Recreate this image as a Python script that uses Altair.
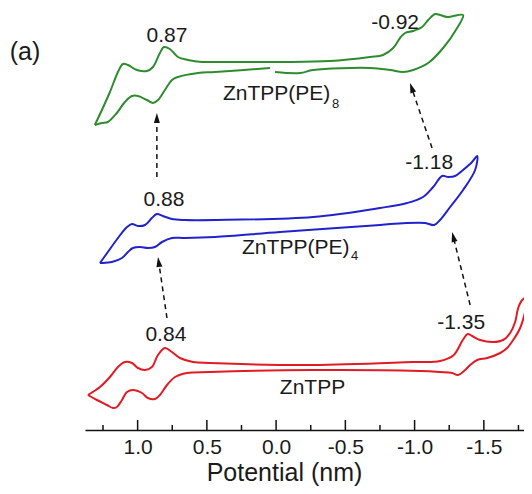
import math
import altair as alt
import pandas as pd

# ---- data: potential (V) and current (arbitrary units, stacked) ----
green_V = [1.309, 1.258, 1.200, 1.142, 1.106, 1.070, 1.005, 0.933, 0.889, 0.839, 0.810, 0.767, 0.709, 0.637,
           0.535, 0.441, -0.028, -0.389, -0.678, -0.772, -0.845, -0.895, -0.931, -0.989, -1.054, -1.098,
           -1.148, -1.184, -1.235, -1.350, -1.307, -1.206, -1.098, -0.989, -0.917, -0.823, -0.678, -0.267,
           -0.173, 0.008, 0.044, 0.441, 0.564, 0.709, 0.752, 0.803, 0.853, 0.889, 0.933, 0.998, 1.041,
           1.092, 1.150, 1.215, 1.258, 1.309]
green_I = [30.5, 32.0, 33.8, 35.8, 36.6, 36.5, 36.0, 35.9, 36.3, 37.7, 38.3, 38.1, 37.3, 37.0,
           36.8, 36.8, 36.8, 36.9, 37.3, 37.5, 38.2, 39.2, 39.7, 39.9, 40.3, 41.0,
           41.6, 41.5, 41.3, 41.5, 40.2, 38.2, 36.7, 36.0, 35.8, 36.0, 36.2, 36.0,
           35.7, 35.8, 36.2, 35.8, 35.7, 35.3, 35.0, 34.0, 33.0, 32.7, 33.0, 33.4, 33.4,
           32.8, 31.7, 30.8, 30.7, 30.5]
green_break = 40  # the green trace has a small gap in its return sweep before this point

blue_V = [1.272, 1.215, 1.142, 1.077, 1.041, 0.998, 0.947, 0.897, 0.861, 0.817, 0.752, 0.658, 0.441,
          -0.267, -0.751, -0.946, -1.061, -1.134, -1.199, -1.242, -1.293, -1.350, -1.415, -1.452,
          -1.437, -1.350, -1.257, -1.184, -1.141, -1.076, -0.823, -0.751, -0.028, 0.441, 0.658,
          0.752, 0.824, 0.875, 0.926, 0.983, 1.034, 1.070, 1.113, 1.186, 1.258, 1.272]
blue_I = [16.7, 17.8, 19.2, 20.3, 20.6, 20.4, 20.5, 21.2, 21.6, 21.4, 21.1, 21.0, 21.0,
          21.3, 22.2, 22.7, 23.3, 24.3, 25.4, 25.3, 25.4, 26.0, 26.8, 27.4,
          26.0, 24.0, 22.3, 21.0, 20.5, 20.7, 20.6, 20.5, 19.8, 19.3, 19.2,
          19.2, 18.8, 18.3, 18.2, 18.3, 18.2, 17.8, 17.2, 16.8, 16.7, 16.7]

red_V = [1.359, 1.272, 1.200, 1.142, 1.092, 1.041, 0.998, 0.947, 0.897, 0.853, 0.803, 0.752, 0.694,
         0.600, 0.478, -0.267, -0.989, -1.184, -1.283, -1.348, -1.384, -1.415, -1.473, -1.567,
         -1.639, -1.690, -1.726, -1.748, -1.777, -1.813, -1.813, -1.798, -1.762, -1.712, -1.668,
         -1.618, -1.524, -1.452, -1.401, -1.365, -1.314, -1.271, -1.184, -1.040, -0.267, 0.478,
         0.644, 0.730, 0.788, 0.839, 0.875, 0.926, 0.969, 1.034, 1.077, 1.113, 1.150, 1.178,
         1.222, 1.294, 1.359]
red_I = [3.5, 4.3, 5.3, 6.3, 6.8, 6.7, 6.2, 6.0, 6.3, 7.5, 8.2, 7.8, 7.2,
         6.8, 6.7, 6.5, 6.8, 6.9, 7.5, 9.0, 9.6, 9.4, 9.0, 8.8,
         9.0, 9.7, 10.8, 12.2, 13.0, 13.3, 13.0, 11.8, 10.2, 9.0, 8.2,
         7.7, 7.2, 7.0, 6.5, 6.0, 5.5, 5.7, 5.8, 5.9, 6.0, 5.8,
         5.7, 5.3, 4.5, 3.5, 3.1, 3.2, 3.7, 4.0, 3.8, 3.0, 2.3, 2.2,
         2.5, 3.0, 3.5]

# peak potential labels
peak_text = ["0.87", "-0.92", "0.88", "-1.18", "0.84", "-1.35"]
peak_V = [0.788, -0.859, 0.810, -1.105, 0.796, -1.336]
peak_I = [39.4, 40.7, 23.0, 26.7, 9.5, 10.7]

# compound names (main part + subscript)
name_text = ["ZnTPP(PE)", "ZnTPP(PE)"]
name_V = [0.384, 0.246]
name_I = [33.6, 18.2]
sub_text = ["8", "4"]
sub_V = [-0.404, -0.541]
sub_I = [32.6, 17.4]
plain_name = ["ZnTPP"]
plain_V = [-0.263]
plain_I = [4.2]

# dashed arrows (start -> end)
arrow_V0 = [0.788, 0.861, -1.126, -1.401]
arrow_I0 = [11.2, 25.3, 28.2, 12.5]
arrow_V1 = [0.853, 0.861, -0.967, -1.271]
arrow_I1 = [17.3, 31.7, 34.7, 19.8]

major_ticks = [1.0, 0.5, 0.0, -0.5, -1.0, -1.5]
minor_ticks = [1.25, 0.75, 0.25, -0.25, -0.75, -1.25, -1.75]

# ---- geometry ----
W, H = 439, 420
x_dom = [1.38, -1.79]
y_dom = [0, 42]
px_per_V = W / (x_dom[0] - x_dom[1])
px_per_I = H / (y_dom[1] - y_dom[0])

rows = []
for name, Vs, Is in [("green", green_V, green_I), ("blue", blue_V, blue_I), ("red", red_V, red_I)]:
    for k, (v, i) in enumerate(zip(Vs, Is)):
        seg = name + ("b" if (name == "green" and k >= green_break) else "a")
        rows.append({"series": name, "seg": seg, "idx": k, "V": v, "I": i})
curves = pd.DataFrame(rows)

# arrow geometry (head size in pixels)
head_size = 100
r = math.sqrt(head_size) / 2
arr_rows, head_rows = [], []
for v0, i0, v1, i1 in zip(arrow_V0, arrow_I0, arrow_V1, arrow_I1):
    dx = -(v1 - v0) * px_per_V
    dy = -(i1 - i0) * px_per_I
    L = math.hypot(dx, dy)
    ux, uy = dx / L, dy / L
    ang = math.degrees(math.atan2(ux, -uy)) % 360
    hv = v1 + r * ux / px_per_V
    hi = i1 + r * uy / px_per_I
    lv = v1 + 1.6 * r * ux / px_per_V
    li = i1 + 1.6 * r * uy / px_per_I
    arr_rows.append({"V": v0, "I": i0, "V2": lv, "I2": li})
    head_rows.append({"V": hv, "I": hi, "ang": ang})
arrows = pd.DataFrame(arr_rows)
heads = pd.DataFrame(head_rows)

xs = alt.Scale(domain=x_dom, nice=False, zero=False)
ys = alt.Scale(domain=y_dom, nice=False, zero=False)
FONT = "Liberation Sans"
TXT = "#1a1a1a"

x_axis = alt.Axis(
    values=major_ticks,
    labelExpr="datum.value < 0 ? '-' + format(-datum.value, '.1f') : format(datum.value, '.1f')",
    ticks=False, grid=False, domainColor="#111", domainWidth=1.5,
    labelFont=FONT, labelFontSize=21, labelColor=TXT, labelPadding=6,
    title="Potential (nm)", titleFont=FONT, titleFontSize=25, titleFontWeight="normal",
    titleColor=TXT, titleBaseline="alphabetic", titleY=50, titleX=199,
)

lines = alt.Chart(curves).mark_line(strokeWidth=2, clip=False, interpolate="catmull-rom").encode(
    x=alt.X("V:Q", scale=xs, axis=x_axis),
    y=alt.Y("I:Q", scale=ys, axis=None),
    color=alt.Color("series:N",
                    scale=alt.Scale(domain=["green", "blue", "red"],
                                    range=["#2e8b2e", "#2222cc", "#e01b24"]),
                    legend=None),
    detail="seg:N",
    order=alt.Order("idx:Q"),
)

major = alt.Chart(pd.DataFrame({"V": major_ticks})).mark_rule(color="#111", strokeWidth=1.5).encode(
    x=alt.X("V:Q", scale=xs), y=alt.value(H), y2=alt.value(H - 10))
minor = alt.Chart(pd.DataFrame({"V": minor_ticks})).mark_rule(color="#111", strokeWidth=1.5).encode(
    x=alt.X("V:Q", scale=xs), y=alt.value(H), y2=alt.value(H - 5))

peaks = alt.Chart(pd.DataFrame({"V": peak_V, "I": peak_I, "t": peak_text})).mark_text(
    font=FONT, fontSize=21, color=TXT, baseline="middle", align="center").encode(
    x=alt.X("V:Q", scale=xs), y=alt.Y("I:Q", scale=ys), text="t:N")

names = alt.Chart(pd.DataFrame({"V": name_V, "I": name_I, "t": name_text})).mark_text(
    font=FONT, fontSize=21, color=TXT, baseline="middle", align="left").encode(
    x=alt.X("V:Q", scale=xs), y=alt.Y("I:Q", scale=ys), text="t:N")

subs = alt.Chart(pd.DataFrame({"V": sub_V, "I": sub_I, "t": sub_text})).mark_text(
    font=FONT, fontSize=13, color=TXT, baseline="middle", align="left").encode(
    x=alt.X("V:Q", scale=xs), y=alt.Y("I:Q", scale=ys), text="t:N")

plain = alt.Chart(pd.DataFrame({"V": plain_V, "I": plain_I, "t": plain_name})).mark_text(
    font=FONT, fontSize=21, color=TXT, baseline="middle", align="center").encode(
    x=alt.X("V:Q", scale=xs), y=alt.Y("I:Q", scale=ys), text="t:N")

arrow_lines = alt.Chart(arrows).mark_rule(color="#111", strokeWidth=1.5, strokeDash=[5, 4]).encode(
    x=alt.X("V:Q", scale=xs), y=alt.Y("I:Q", scale=ys), x2="V2:Q", y2="I2:Q")

arrow_heads = alt.Chart(heads).mark_point(
    shape="M0,-1L-0.6,1L0.6,1Z", filled=True, size=head_size, color="#111", opacity=1).encode(
    x=alt.X("V:Q", scale=xs), y=alt.Y("I:Q", scale=ys), angle=alt.Angle("ang:Q", scale=None))

panel = alt.Chart(pd.DataFrame({"t": ["(a)"]})).mark_text(
    font=FONT, fontSize=25, color=TXT, baseline="middle", align="center").encode(
    x=alt.value(-60), y=alt.value(42), text="t:N")

chart = alt.layer(lines, major, minor, arrow_lines, arrow_heads, peaks, names, subs, plain, panel).properties(
    width=W, height=H,
    padding={"left": 77, "top": 2, "right": 0, "bottom": 56},
    autosize=alt.AutoSizeParams(type="none"),
    background="white",
).configure_view(stroke=None)

chart.save("out.html", embed_options={"renderer": "svg", "actions": False})
